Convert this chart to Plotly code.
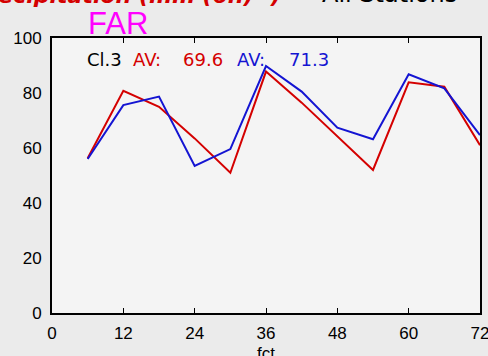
import plotly.graph_objects as go

# Forecast lead times (hours) and 6-hourly precipitation scores
fct_hours = [6, 12, 18, 24, 30, 36, 42, 48, 54, 60, 66, 72]
red_values = [56.3, 80.8, 75.0, 63.5, 51.0, 87.8, 76.5, 64.1, 52.0, 83.9, 82.3, 61.0]
blue_values = [56.0, 75.6, 78.7, 53.5, 59.6, 89.8, 80.5, 67.4, 63.2, 86.8, 81.7, 64.7]
x_ticks = [0, 12, 24, 36, 48, 60, 72]
y_ticks = [0, 20, 40, 60, 80, 100]

RED = "#d40000"
BLUE = "#1414d2"
TICK_FONT = dict(family="Liberation Sans", size=17, color="black")

fig = go.Figure()
fig.add_trace(go.Scatter(x=fct_hours, y=red_values, mode="lines",
                         line=dict(color=RED, width=2), showlegend=False))
fig.add_trace(go.Scatter(x=fct_hours, y=blue_values, mode="lines",
                         line=dict(color=BLUE, width=2), showlegend=False))

fig.update_layout(
    width=488, height=356,
    margin=dict(l=52, r=8, t=38, b=43),
    paper_bgcolor="#ebebeb",
    plot_bgcolor="#f4f4f4",
    font=dict(family="DejaVu Sans", size=13, color="black"),
    xaxis=dict(range=[0, 72], tickvals=x_ticks, showgrid=False, zeroline=False,
               showline=True, linecolor="black", linewidth=2, mirror="ticks",
               ticks="inside", ticklen=5, tickcolor="black", tickwidth=1,
               tickfont=TICK_FONT, ticklabelstandoff=4, automargin=False,
               ticklabeloverflow="allow"),
    yaxis=dict(range=[0, 100], tickvals=y_ticks, showgrid=False, zeroline=False,
               showline=True, linecolor="black", linewidth=2, mirror=True,
               ticks="", tickfont=TICK_FONT, ticklabelstandoff=5,
               automargin=False, ticklabeloverflow="allow"),
)

annotations = [
    dict(text="<b><i>Precipitation (mm (6h)<sup>-1</sup>)</i></b>", x=283, y=10,
         xanchor="right", yanchor="bottom", font=dict(color=RED, size=22)),
    dict(text="All Stations", x=320, y=10, xanchor="left", yanchor="bottom",
         font=dict(color="black", size=24)),
    dict(text="FAR", x=86, y=24, xanchor="left", yanchor="middle",
         font=dict(family="Liberation Sans", color="#ff00ff", size=31)),
    dict(text="Cl.3", x=85, y=59, xanchor="left", yanchor="middle",
         font=dict(color="black", size=18)),
    dict(text="AV:", x=131, y=59, xanchor="left", yanchor="middle",
         font=dict(color=RED, size=18)),
    dict(text="69.6", x=181, y=59, xanchor="left", yanchor="middle",
         font=dict(color=RED, size=18)),
    dict(text="AV:", x=235, y=59, xanchor="left", yanchor="middle",
         font=dict(color=BLUE, size=18)),
    dict(text="71.3", x=287, y=59, xanchor="left", yanchor="middle",
         font=dict(color=BLUE, size=18)),
    # x-axis title
    dict(text="fct", x=266, y=342, xanchor="center", yanchor="top",
         font=dict(family="Liberation Sans", color="black", size=17)),
]
# Convert pixel positions to paper coordinates
pw, ph = 488 - 52 - 8, 356 - 38 - 43
for a in annotations:
    a["x"] = (a["x"] - 52) / pw
    a["y"] = 1 - (a["y"] - 38) / ph
    a.update(xref="paper", yref="paper", showarrow=False)
fig.update_layout(annotations=annotations)

fig.write_html("out.html")
